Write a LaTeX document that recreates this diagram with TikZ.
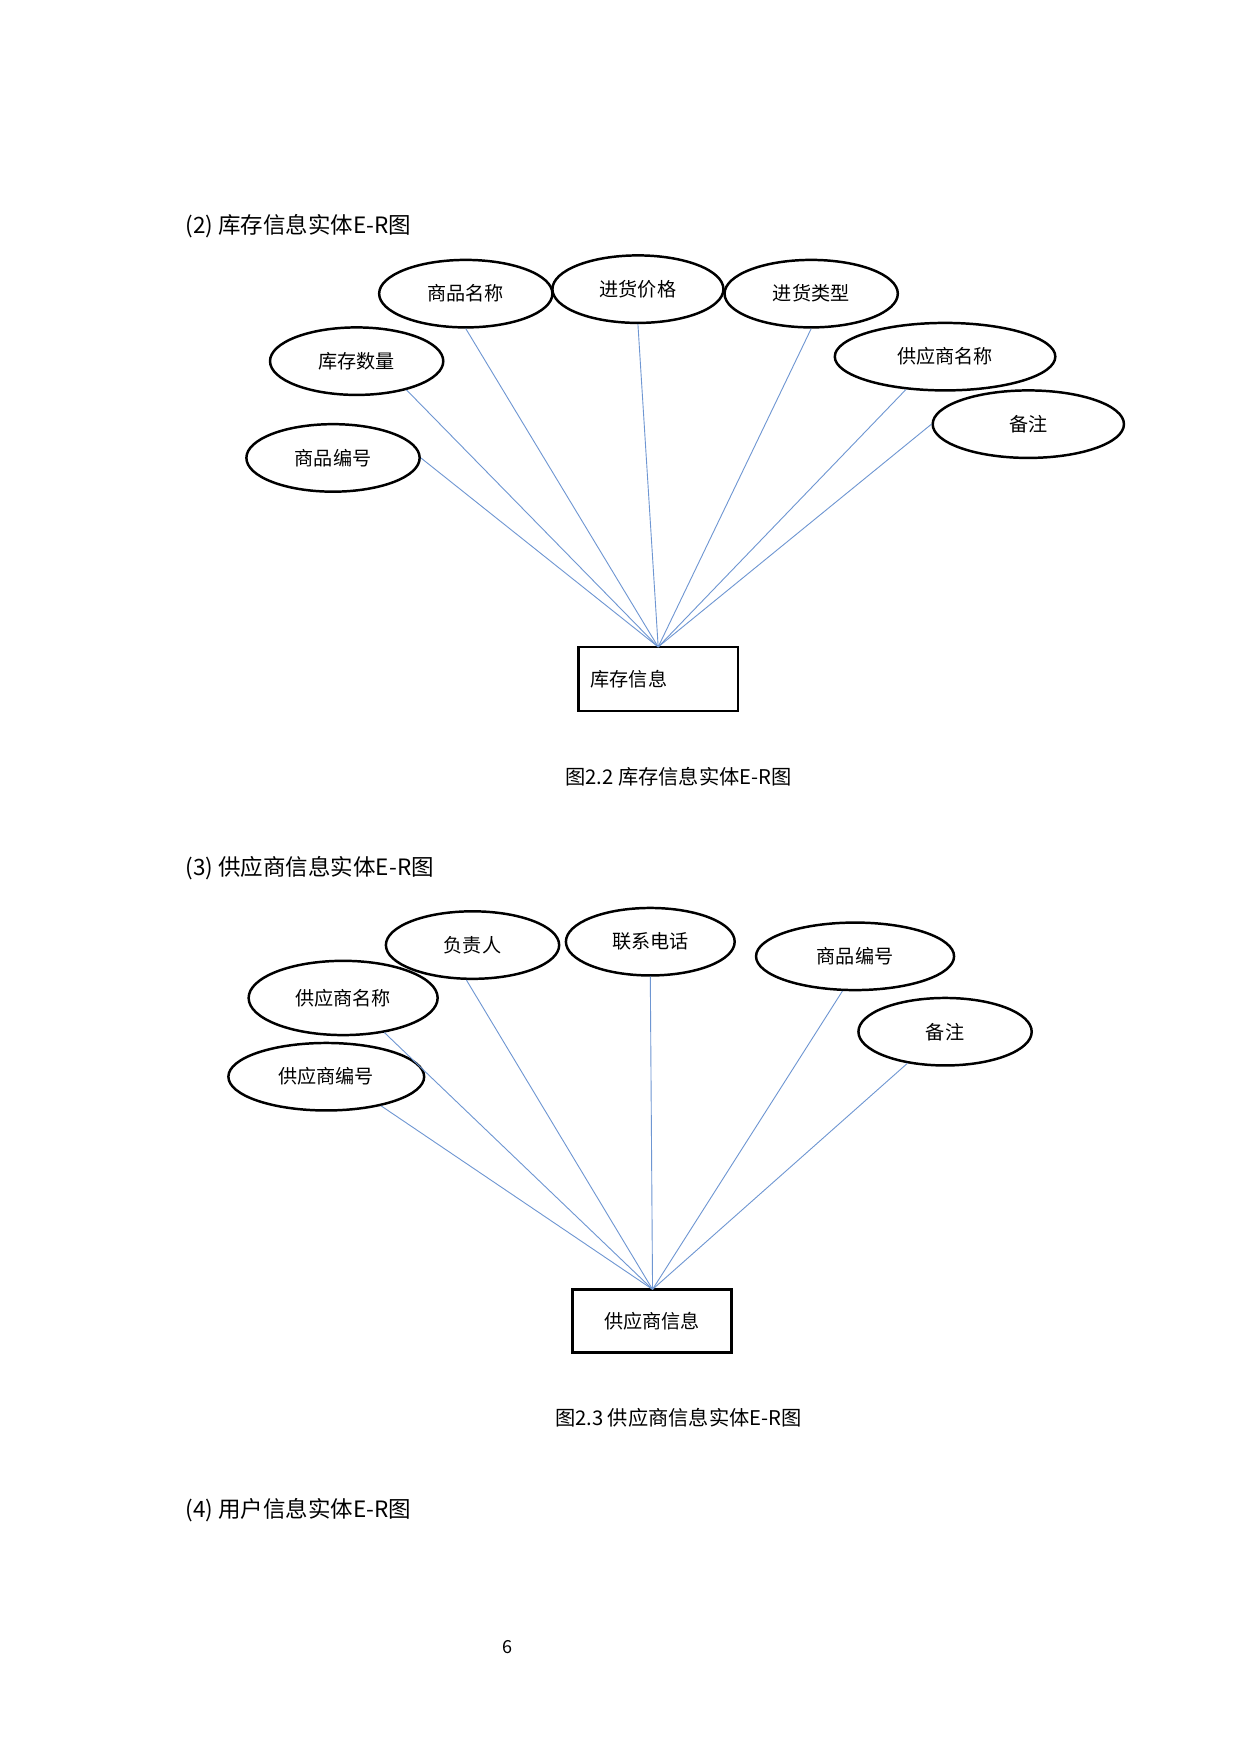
\documentclass[tikz,border=0pt]{standalone}
\usepackage{fontspec}
\setmainfont{Noto Sans CJK SC}
\usetikzlibrary{shapes.geometric}
\begin{document}
\begin{tikzpicture}[x=0.5pt,y=-0.5pt,
  attr/.style={ellipse,draw,line width=1.1pt,inner sep=0pt,font=\fontsize{8.5}{10}\selectfont},
  ent/.style={draw,line width=1.1pt,inner sep=0pt,font=\fontsize{8.5}{10}\selectfont},
  link/.style={draw={rgb,255:red,110;green,150;blue,210},line width=0.4pt},
  head/.style={anchor=west,font=\fontsize{10}{12}\selectfont},
  figcap/.style={font=\fontsize{9}{11}\selectfont}]
\useasboundingbox (0,0) rectangle (1102,1559);
\fill[white] (0,0) rectangle (1102,1559);
% section 2
\node[head] (h2) at (158,201) {(2)\ 库存信息实体E-R图};
\node[attr,minimum width=77pt,minimum height=30pt] (a1) at (414,261) {商品名称};
\node[attr,minimum width=76pt,minimum height=30pt] (a2) at (567,257) {进货价格};
\node[attr,minimum width=77pt,minimum height=30pt] (a3) at (721,261) {进货类型};
\node[attr,minimum width=77pt,minimum height=30pt] (a4) at (317,321) {库存数量};
\node[attr,minimum width=98pt,minimum height=30pt] (a5) at (840,317) {供应商名称};
\node[attr,minimum width=77pt,minimum height=30pt] (a6) at (296,407) {商品编号};
\node[attr,minimum width=85pt,minimum height=30pt] (a7) at (914,377) {备注};
\node[ent,minimum width=71pt,minimum height=28.5pt,text width=60pt,align=left] (r1) at (585,603.5) {库存信息};
\coordinate (p1) at (585,575);
\draw[link] (a6.east) -- (p1);
\draw[link] (a4.-30) -- (p1);
\draw[link] (a1.south) -- (p1);
\draw[link] (a2.south) -- (p1);
\draw[link] (a3.south) -- (p1);
\draw[link] (a5.-140) -- (p1);
\draw[link] (a7.west) -- (p1);
\node[figcap] (c2) at (603,690) {图2.2 库存信息实体E-R图};
% section 3
\node[head] (h3) at (158,772) {(3)\ 供应商信息实体E-R图};
\node[attr,minimum width=77pt,minimum height=30pt] (b1) at (420,840) {负责人};
\node[attr,minimum width=75pt,minimum height=30pt] (b2) at (578,837) {联系电话};
\node[attr,minimum width=88pt,minimum height=30pt] (b3) at (760,850) {商品编号};
\node[attr,minimum width=84pt,minimum height=33pt] (b4) at (305,887) {供应商名称};
\node[attr,minimum width=77pt,minimum height=30pt] (b5) at (840,917) {备注};
\node[attr,minimum width=87pt,minimum height=30pt] (b6) at (290,957) {供应商编号};
\node[ent,minimum width=70.5pt,minimum height=28pt] (r2) at (579.5,1174) {供应商信息};
\coordinate (p2) at (580,1146);
\draw[link] (b6.-28) -- (p2);
\draw[link] (b4.-40) -- (p2);
\draw[link] (b1.-100) -- (p2);
\draw[link] (b2.south) -- (p2);
\draw[link] (b3.-110) -- (p2);
\draw[link] (b5.-140) -- (p2);
\node[figcap] (c3) at (603,1260) {图2.3 供应商信息实体E-R图};
\node[head] (h4) at (158,1342) {(4)\ 用户信息实体E-R图};
\node[font=\fontsize{8}{10}\selectfont] (pg) at (451,1464) {6};
\end{tikzpicture}
\end{document}
